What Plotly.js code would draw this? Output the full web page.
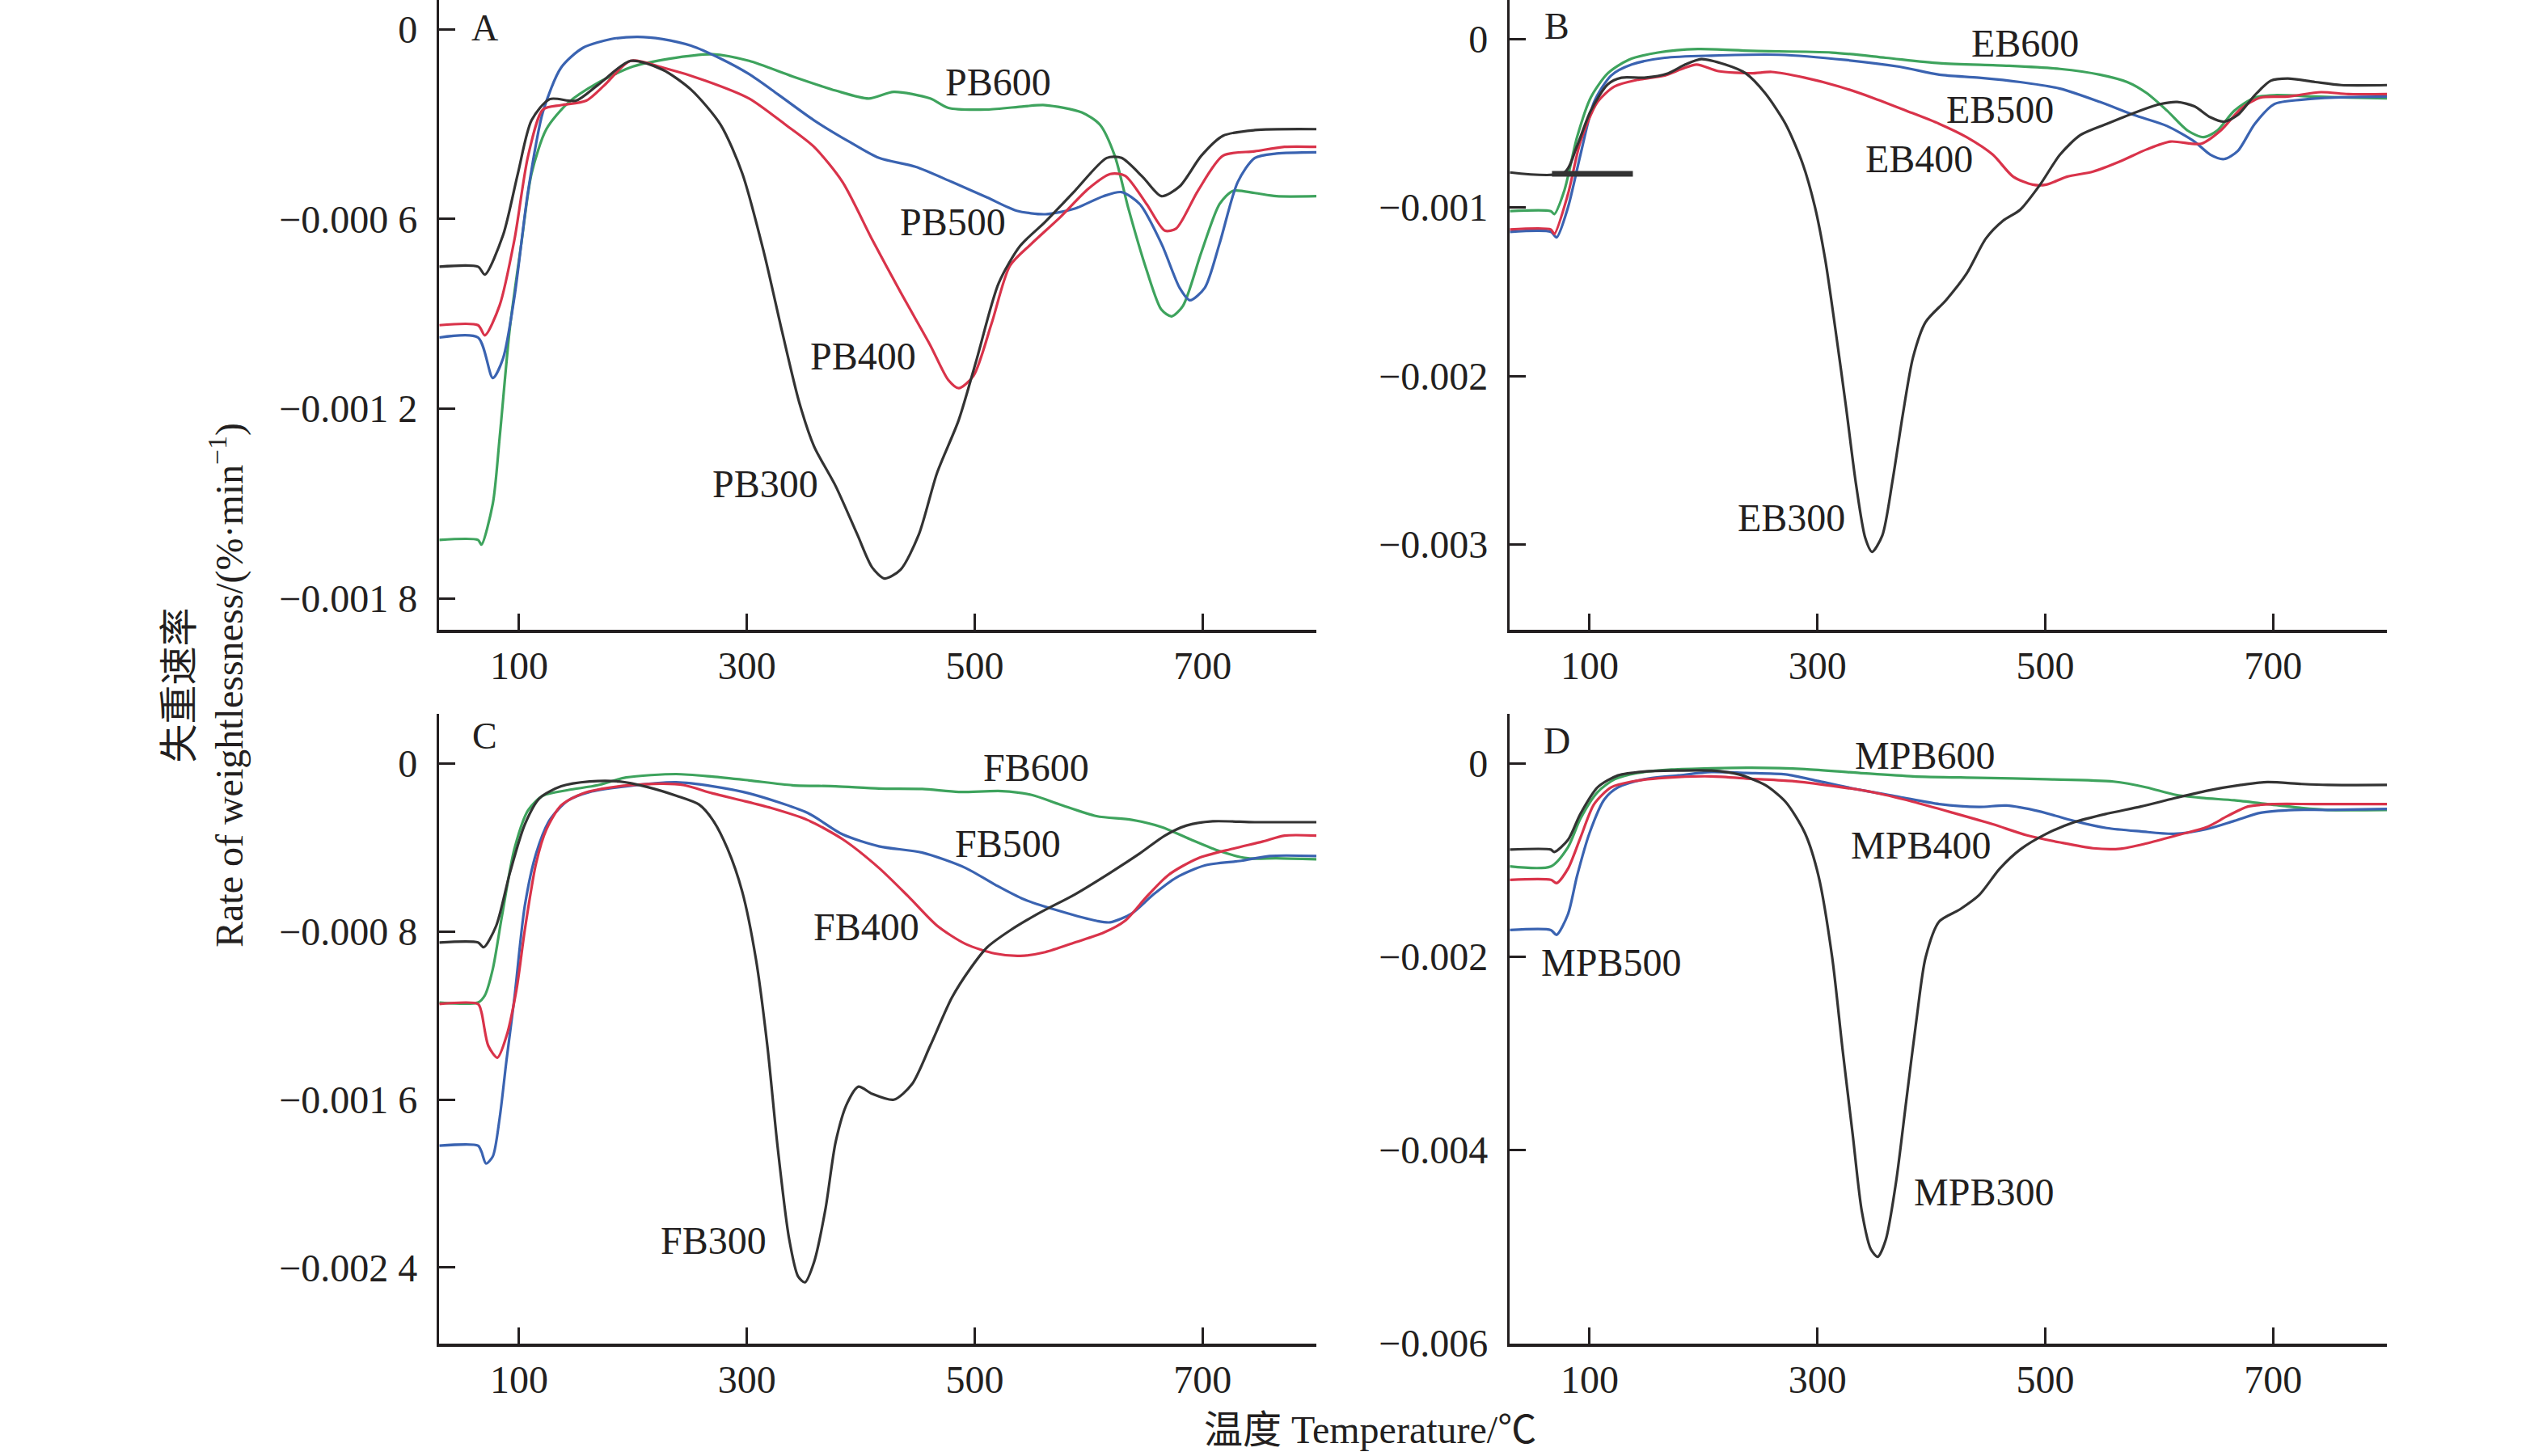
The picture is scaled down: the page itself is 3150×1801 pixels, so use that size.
<!DOCTYPE html>
<html>
<head>
<meta charset="utf-8">
<script src="https://cdn.plot.ly/plotly-3.0.1.min.js"></script>
<style>html,body{margin:0;padding:0;background:#fff;}#chart{width:3150px;height:1801px;}</style>
</head>
<body>
<div id="chart"></div>
<script>
// Rate of weightlessness values are given in units of 10^-3 %/min; temperatures in °C
const UNIT = 1e-3;
const xTicks = [100, 300, 500, 700];

// Panel A
const pb300T = [30,64,70,86,99,111,127,150,169,198,226,251,277,296,315,331,346,359,378,397,410,421,435,451,467,486,502,521,540,562,588,616,629,648,664,680,699,718,746,800];
const pb300V = [-0.751,-0.751,-0.776,-0.651,-0.456,-0.288,-0.221,-0.226,-0.177,-0.100,-0.128,-0.191,-0.302,-0.456,-0.706,-0.957,-1.18,-1.319,-1.445,-1.598,-1.702,-1.737,-1.709,-1.598,-1.403,-1.236,-1.041,-0.804,-0.685,-0.609,-0.511,-0.407,-0.407,-0.469,-0.528,-0.497,-0.400,-0.337,-0.319,-0.316];
const pb400T = [30,64,70,83,96,108,121,137,159,175,198,226,264,302,334,359,384,410,435,461,477,486,499,515,531,550,575,600,619,632,651,667,677,696,718,746,772,800];
const pb400V = [-0.936,-0.936,-0.968,-0.873,-0.665,-0.400,-0.254,-0.240,-0.226,-0.177,-0.100,-0.121,-0.163,-0.219,-0.302,-0.372,-0.483,-0.665,-0.832,-0.999,-1.110,-1.135,-1.096,-0.929,-0.748,-0.678,-0.595,-0.504,-0.458,-0.463,-0.553,-0.637,-0.630,-0.511,-0.400,-0.386,-0.372,-0.372];
const pb500T = [30,64,77,86,96,108,121,137,156,181,204,226,251,277,302,327,359,391,416,448,480,511,537,562,588,613,629,645,664,680,689,702,715,731,746,765,800];
const pb500V = [-0.975,-0.975,-1.103,-1.041,-0.846,-0.511,-0.261,-0.121,-0.059,-0.031,-0.024,-0.031,-0.052,-0.093,-0.142,-0.205,-0.288,-0.358,-0.407,-0.435,-0.483,-0.532,-0.574,-0.585,-0.567,-0.528,-0.515,-0.553,-0.678,-0.818,-0.857,-0.818,-0.678,-0.483,-0.407,-0.393,-0.389];
const pb600T = [30,64,67,77,83,92,102,111,124,143,169,200,232,270,302,340,378,407,429,461,477,511,543,562,594,610,623,635,651,664,673,683,699,715,727,746,765,800];
const pb600V = [-1.615,-1.615,-1.630,-1.500,-1.291,-0.943,-0.678,-0.456,-0.316,-0.233,-0.170,-0.118,-0.093,-0.079,-0.100,-0.149,-0.194,-0.219,-0.198,-0.219,-0.249,-0.254,-0.244,-0.240,-0.263,-0.302,-0.400,-0.567,-0.762,-0.887,-0.908,-0.874,-0.706,-0.553,-0.511,-0.518,-0.528,-0.528];

// Panel B
const eb300T = [30,78,89,101,116,128,148,169,184,198,219,237,254,272,287,298,307,316,325,334,342,348,357,366,375,384,395,413,431,448,463,478,495,513,531,554,578,601,616,631,645,657,669,684,698,713,737,760,800];
const eb300V = [-0.792,-0.792,-0.635,-0.426,-0.269,-0.230,-0.230,-0.204,-0.152,-0.120,-0.152,-0.204,-0.321,-0.504,-0.739,-1.001,-1.314,-1.732,-2.177,-2.647,-2.961,-3.044,-2.947,-2.621,-2.229,-1.889,-1.680,-1.550,-1.393,-1.184,-1.079,-1.014,-0.870,-0.687,-0.570,-0.504,-0.439,-0.387,-0.374,-0.400,-0.465,-0.491,-0.452,-0.334,-0.248,-0.235,-0.256,-0.274,-0.274];
const eb300MarkT = [67, 138];
const eb300MarkV = [-0.800, -0.800];
const eb400T = [30,66,69,81,92,107,122,142,166,181,194,213,242,260,289,319,348,378,407,431,454,472,489,501,519,542,566,589,610,637,654,672,689,713,742,766,800];
const eb400V = [-1.131,-1.131,-1.158,-0.922,-0.609,-0.374,-0.282,-0.243,-0.217,-0.178,-0.152,-0.191,-0.204,-0.196,-0.230,-0.282,-0.348,-0.426,-0.504,-0.583,-0.687,-0.818,-0.865,-0.865,-0.818,-0.787,-0.726,-0.656,-0.609,-0.622,-0.544,-0.413,-0.348,-0.342,-0.316,-0.327,-0.327];
const eb500T = [30,66,71,81,92,104,119,137,166,207,266,325,372,407,442,478,513,548,578,607,631,645,657,669,684,701,725,754,800];
const eb500V = [-1.145,-1.145,-1.178,-1.001,-0.687,-0.374,-0.217,-0.152,-0.112,-0.099,-0.094,-0.125,-0.165,-0.212,-0.230,-0.256,-0.295,-0.374,-0.452,-0.517,-0.609,-0.687,-0.713,-0.666,-0.504,-0.387,-0.361,-0.348,-0.342];
const eb600T = [30,66,69,78,89,101,116,134,160,195,242,313,360,407,466,513,548,572,589,607,625,639,651,666,684,701,737,766,800];
const eb600V = [-1.022,-1.022,-1.040,-0.896,-0.583,-0.348,-0.204,-0.125,-0.081,-0.060,-0.071,-0.081,-0.112,-0.144,-0.159,-0.178,-0.212,-0.256,-0.321,-0.426,-0.544,-0.583,-0.544,-0.426,-0.348,-0.334,-0.342,-0.348,-0.353];

// Panel C
const fb300T = [30,64,69,80,92,105,118,137,162,188,213,238,258,270,283,296,308,318,327,337,345,351,359,369,378,388,398,410,429,445,461,480,496,511,531,556,588,619,645,667,686,709,746,800];
const fb300V = [-0.852,-0.852,-0.875,-0.772,-0.520,-0.291,-0.165,-0.108,-0.085,-0.085,-0.112,-0.153,-0.195,-0.268,-0.405,-0.611,-0.932,-1.344,-1.825,-2.260,-2.443,-2.471,-2.375,-2.123,-1.802,-1.619,-1.539,-1.573,-1.601,-1.527,-1.344,-1.115,-0.978,-0.875,-0.795,-0.714,-0.623,-0.520,-0.428,-0.343,-0.295,-0.275,-0.279,-0.279];
const fb400T = [30,64,67,73,81,89,98,105,115,124,137,156,188,226,245,270,296,321,353,384,416,442,467,492,518,540,562,588,613,632,651,670,696,727,753,772,800];
const fb400V = [-1.145,-1.145,-1.184,-1.344,-1.401,-1.298,-1.069,-0.795,-0.474,-0.314,-0.199,-0.142,-0.108,-0.096,-0.103,-0.142,-0.176,-0.211,-0.268,-0.360,-0.497,-0.634,-0.772,-0.859,-0.905,-0.916,-0.898,-0.852,-0.806,-0.749,-0.634,-0.531,-0.451,-0.405,-0.371,-0.343,-0.343];
const fb500T = [30,64,67,71,77,83,89,96,105,115,127,143,162,194,238,270,302,353,384,416,454,492,518,543,575,607,619,638,657,677,702,734,759,800];
const fb500V = [-1.820,-1.820,-1.848,-1.905,-1.871,-1.688,-1.413,-1.115,-0.680,-0.428,-0.268,-0.176,-0.135,-0.108,-0.089,-0.108,-0.142,-0.234,-0.337,-0.394,-0.424,-0.497,-0.577,-0.646,-0.703,-0.749,-0.756,-0.714,-0.623,-0.543,-0.485,-0.463,-0.440,-0.440];
const fb600T = [30,64,70,77,85,96,108,121,143,169,194,238,270,302,340,378,416,454,486,524,550,575,607,638,664,689,715,740,765,800];
const fb600V = [-1.138,-1.138,-1.104,-0.978,-0.726,-0.405,-0.222,-0.153,-0.126,-0.103,-0.066,-0.050,-0.062,-0.080,-0.103,-0.108,-0.119,-0.121,-0.135,-0.131,-0.149,-0.195,-0.250,-0.268,-0.302,-0.360,-0.417,-0.451,-0.451,-0.456];

// Panel D
const mpb300T = [30,66,69,81,92,107,125,148,178,207,231,254,272,289,301,313,322,331,339,347,353,360,369,378,387,395,407,425,442,460,478,501,525,554,584,613,642,672,695,725,748,800];
const mpb300V = [-0.892,-0.892,-0.917,-0.793,-0.521,-0.248,-0.124,-0.084,-0.074,-0.074,-0.114,-0.223,-0.397,-0.719,-1.165,-2.008,-2.950,-3.842,-4.636,-5.032,-5.107,-4.933,-4.338,-3.495,-2.652,-2.008,-1.636,-1.512,-1.363,-1.091,-0.892,-0.729,-0.610,-0.521,-0.446,-0.362,-0.283,-0.223,-0.193,-0.213,-0.223,-0.223];
const mpb400T = [30,66,71,81,92,104,119,137,166,207,242,278,313,348,384,419,454,484,513,542,566,589,619,642,660,678,701,737,800];
const mpb400V = [-1.205,-1.205,-1.239,-1.091,-0.768,-0.421,-0.248,-0.188,-0.149,-0.134,-0.159,-0.183,-0.233,-0.297,-0.397,-0.511,-0.630,-0.744,-0.818,-0.878,-0.883,-0.828,-0.734,-0.659,-0.545,-0.446,-0.421,-0.421,-0.421];
const mpb500T = [30,66,71,81,89,100,113,125,148,178,207,237,272,301,337,372,407,442,466,495,525,554,584,613,642,666,689,719,748,800];
const mpb500V = [-1.725,-1.725,-1.775,-1.562,-1.165,-0.719,-0.372,-0.248,-0.164,-0.124,-0.089,-0.099,-0.114,-0.183,-0.273,-0.347,-0.421,-0.451,-0.436,-0.496,-0.595,-0.669,-0.704,-0.729,-0.679,-0.595,-0.511,-0.481,-0.481,-0.471];
const mpb600T = [30,66,81,92,107,122,142,172,207,242,289,337,384,442,501,560,589,613,637,666,695,725,748,800];
const mpb600V = [-1.066,-1.066,-0.868,-0.570,-0.297,-0.164,-0.099,-0.064,-0.050,-0.045,-0.059,-0.099,-0.134,-0.149,-0.164,-0.188,-0.248,-0.322,-0.357,-0.382,-0.421,-0.461,-0.481,-0.481];

// Tick labels
const yTickValsA = [0, -0.6, -1.2, -1.8];
const yTickTextA = ["0", "\u22120.000 6", "\u22120.001 2", "\u22120.001 8"];
const yTickValsB = [0, -1, -2, -3];
const yTickTextB = ["0", "\u22120.001", "\u22120.002", "\u22120.003"];
const yTickValsC = [0, -0.8, -1.6, -2.4];
const yTickTextC = ["0", "\u22120.000 8", "\u22120.001 6", "\u22120.002 4"];
const yTickValsD = [0, -2, -4, -6];
const yTickTextD = ["0", "\u22120.002", "\u22120.004", "\u22120.006"];

// Curve labels
const labelsA = [["PB600",521,-0.167],["PB500",481,-0.609],["PB400",402,-1.034],["PB300",316,-1.438]];
const labelsB = [["EB600",482,-0.026],["EB500",460,-0.421],["EB400",389,-0.713],["EB300",277,-2.843]];
const labelsC = [["FB600",554,-0.021],["FB500",529,-0.382],["FB400",405,-0.776],["FB300",271,-2.272]];
const labelsD = [["MPB600",394,0.084],["MPB400",391,-0.843],["MPB500",119,-2.057],["MPB300",446,-4.437]];
const panelLetters = [["A",70,0.004],["B",71,0.076],["C",70,0.133],["D",71,0.233]];

const COLORS = {k:"#333333", r:"#d9334a", b:"#3a63b1", g:"#3ea35d"};
const FONT = "Liberation Serif, Times New Roman, serif";
const CJKFONT = "Liberation Serif, Noto Sans CJK SC, serif";
const TXT = "#231f20";

const sc = a => a.map(v => v * UNIT);
function tr(T, V, color, ax, w) {
  return {x: T, y: sc(V), type: "scatter", mode: "lines",
    line: {color: color, width: w || 3.2, shape: "spline", smoothing: 0.75},
    xaxis: "x" + ax, yaxis: "y" + ax, showlegend: false, hoverinfo: "skip"};
}
const traces = [
  tr(pb600T, pb600V, COLORS.g, ""), tr(pb500T, pb500V, COLORS.b, ""), tr(pb400T, pb400V, COLORS.r, ""), tr(pb300T, pb300V, COLORS.k, ""),
  tr(eb600T, eb600V, COLORS.g, "2"), tr(eb500T, eb500V, COLORS.b, "2"), tr(eb400T, eb400V, COLORS.r, "2"), tr(eb300T, eb300V, COLORS.k, "2"),
  {x: eb300MarkT, y: sc(eb300MarkV), type: "scatter", mode: "lines", line: {color: COLORS.k, width: 7}, xaxis: "x2", yaxis: "y2", showlegend: false, hoverinfo: "skip"},
  tr(fb600T, fb600V, COLORS.g, "3"), tr(fb500T, fb500V, COLORS.b, "3"), tr(fb400T, fb400V, COLORS.r, "3"), tr(fb300T, fb300V, COLORS.k, "3"),
  tr(mpb600T, mpb600V, COLORS.g, "4"), tr(mpb500T, mpb500V, COLORS.b, "4"), tr(mpb400T, mpb400V, COLORS.r, "4"), tr(mpb300T, mpb300V, COLORS.k, "4")
];

function xax(domain, anchor) {
  return {domain: domain, anchor: anchor, range: [30, 800], tickvals: xTicks, ticktext: xTicks.map(String),
    showline: true, linecolor: TXT, linewidth: 3.5, ticks: "inside", ticklen: 20, tickwidth: 3, tickcolor: TXT,
    showgrid: false, zeroline: false, ticklabelstandoff: 0, tickfont: {family: FONT, size: 48, color: TXT}};
}
function yax(domain, anchor, range, vals, text) {
  return {domain: domain, anchor: anchor, range: sc(range), tickvals: sc(vals), ticktext: text,
    showline: true, linecolor: TXT, linewidth: 3.5, ticks: "inside", ticklen: 20, tickwidth: 3, tickcolor: TXT,
    showgrid: false, zeroline: false, ticklabelstandoff: 14, tickfont: {family: FONT, size: 48, color: TXT}};
}
const dxL = [543.3/3150, 1628/3150], dxR = [1867.3/3150, 2952/3150];
const dyT = [1 - 779.3/1801, 1.0], dyB = [1 - 1662/1801, 1 - 883/1801];

const annotations = [];
function addLabels(list, ax) {
  list.forEach(l => annotations.push({text: l[0], x: l[1], y: l[2] * UNIT, xref: "x" + ax, yref: "y" + ax,
    showarrow: false, xanchor: "center", yanchor: "middle", font: {family: FONT, size: 48, color: TXT}}));
}
addLabels(labelsA, ""); addLabels(labelsB, "2"); addLabels(labelsC, "3"); addLabels(labelsD, "4");
["", "2", "3", "4"].forEach((ax, i) => {
  const p = panelLetters[i];
  annotations.push({text: p[0], x: p[1], y: p[2] * UNIT, xref: "x" + ax, yref: "y" + ax, showarrow: false,
    xanchor: "center", yanchor: "middle", font: {family: FONT, size: 46, color: TXT}});
});
annotations.push({text: "失重速率<br>Rate of weightlessness/(%·min<sup>−1</sup>)", x: 253/3150, y: 1 - 848/1801,
  xref: "paper", yref: "paper", showarrow: false, textangle: -90, xanchor: "center", yanchor: "middle",
  font: {family: CJKFONT, size: 48, color: TXT}});
annotations.push({text: "温度 Temperature/℃", x: 1694/3150, y: 1 - 1768/1801, xref: "paper", yref: "paper",
  showarrow: false, xanchor: "center", yanchor: "middle", font: {family: CJKFONT, size: 48, color: TXT}});

const layout = {
  width: 3150, height: 1801, margin: {l: 0, r: 0, t: 0, b: 0},
  paper_bgcolor: "#ffffff", plot_bgcolor: "#ffffff", showlegend: false,
  xaxis: xax(dxL, "y"), yaxis: yax(dyT, "x", [-1.900, 0.0925], yTickValsA, yTickTextA),
  xaxis2: xax(dxR, "y2"), yaxis2: yax(dyT, "x2", [-3.508, 0.231], yTickValsB, yTickTextB),
  xaxis3: xax(dxL, "y3"), yaxis3: yax(dyB, "x3", [-2.763, 0.237], yTickValsC, yTickTextC),
  xaxis4: xax(dxR, "y4"), yaxis4: yax(dyB, "x4", [-6.006, 0.513], yTickValsD, yTickTextD),
  annotations: annotations
};
Plotly.newPlot("chart", traces, layout, {staticPlot: true, displayModeBar: false});
</script>
</body>
</html>
